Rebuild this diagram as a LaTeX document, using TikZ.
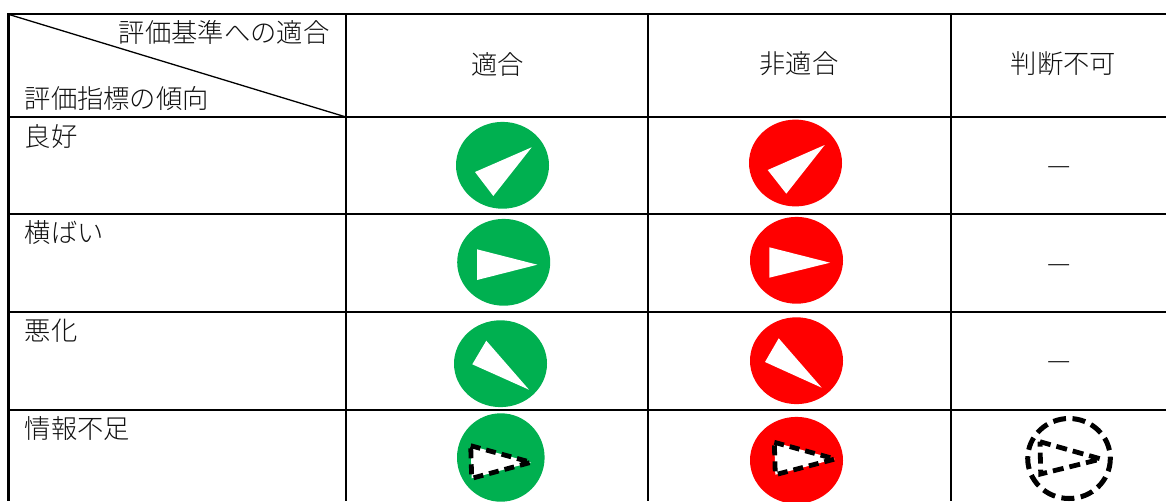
\documentclass[tikz,border=0pt]{standalone}
\usepackage{fontspec}
\setmainfont[UprightFont={* Light}]{Noto Sans CJK JP}
\usetikzlibrary{shapes.geometric}
\definecolor{okgreen}{HTML}{00B050}
\definecolor{ngred}{HTML}{FF0000}
\definecolor{inkgray}{HTML}{111111}
\tikzset{
  rule/.style={line width=2.5pt,black},
  thinrule/.style={line width=1.3pt,black},
  celltext/.style={inner sep=0pt,font=\fontsize{26.3pt}{28pt}\selectfont,text=inkgray},
  lefttext/.style={celltext,anchor=west},
  midtext/.style={celltext,anchor=center},
  righttext/.style={celltext,anchor=east},
  greendisc/.style={fill=okgreen,draw=none},
  reddisc/.style={fill=ngred,draw=none},
  whitetri/.style={fill=white,draw=none},
  dashtri/.style={fill=white,draw=black,line width=4.8pt,dash pattern=on 10pt off 6pt,line join=miter},
  opentri/.style={draw=black,line width=4.8pt,dash pattern=on 11pt off 6pt,line join=miter},
  dashring/.style={draw=black,line width=5pt,dash pattern=on 13pt off 6.5pt}
}
\begin{document}
\begin{tikzpicture}[x=1pt,y=-1pt]
\useasboundingbox (0,0) rectangle (1166,501);
% table rules
\draw[rule] (7.3,14) -- (1166,14);
\foreach \yy in {117,214,312,410} \draw[rule] (7.3,\yy) -- (1166,\yy);
\foreach \xx in {8.5,346,648,951} \draw[rule] (\xx,13) -- (\xx,501);
\draw[thinrule] (9,14.5) -- (346,117);
% header
\node[righttext] (crit) at (329.5,32) {評価基準への適合};
\node[lefttext] (trend) at (24.5,99) {評価指標の傾向};
\node[midtext] (h1) at (497.5,64) {適合};
\node[midtext] (h2) at (799,64) {非適合};
\node[midtext] (h3) at (1063.5,64) {判断不可};
% row labels
\node[lefttext] (r1) at (24.5,137) {良好};
\node[lefttext] (r2) at (24.5,232.5) {横ばい};
\node[lefttext] (r3) at (24.5,330.5) {悪化};
\node[lefttext] (r4) at (24.5,428.5) {情報不足};
% dashes
\node[midtext] (d1) at (1059,171) {—};
\node[midtext] (d2) at (1059,269) {—};
\node[midtext] (d3) at (1059,366) {—};
% row 1
\fill[greendisc] (502.5,165.3) ellipse [x radius=46.5,y radius=43.4];
\fill[whitetri] (531.7,147.3) -- (475,172) -- (493.3,196) -- cycle;
\fill[reddisc] (795.5,163) ellipse [x radius=46.5,y radius=43.4];
\fill[whitetri] (824.7,145) -- (767.7,170) -- (786.3,193.7) -- cycle;
% row 2
\fill[greendisc] (503.7,262.3) ellipse [x radius=46.5,y radius=43.4];
\fill[whitetri] (477,249.3) -- (537.3,264.7) -- (477,280) -- cycle;
\fill[reddisc] (796.5,260.3) ellipse [x radius=46.5,y radius=43.4];
\fill[whitetri] (769.3,247.3) -- (830,262.7) -- (769.3,277.7) -- cycle;
% row 3
\fill[greendisc] (500.5,363.7) ellipse [x radius=46.5,y radius=43.4];
\fill[whitetri] (486.3,340.7) -- (472.3,364.3) -- (529,389.7) -- cycle;
\fill[reddisc] (796.5,360.7) ellipse [x radius=46.5,y radius=43.4];
\fill[whitetri] (778.7,338.3) -- (765,362) -- (821.7,387.7) -- cycle;
% row 4
\fill[greendisc] (500.8,457.5) ellipse [x radius=43.8,y radius=44.2];
\draw[dashtri] (470.7,445.7) -- (531,462.3) -- (471.7,478.3) -- cycle;
\fill[reddisc] (796.5,460.3) ellipse [x radius=46.5,y radius=43.4];
\draw[dashtri] (774.3,442.3) -- (835,459) -- (775.3,474.7) -- cycle;
\draw[dashring] (1069,458.5) ellipse [x radius=41.3,y radius=40];
\draw[opentri] (1040,441.7) -- (1101,459) -- (1040.7,474) -- cycle;
\end{tikzpicture}
\end{document}
